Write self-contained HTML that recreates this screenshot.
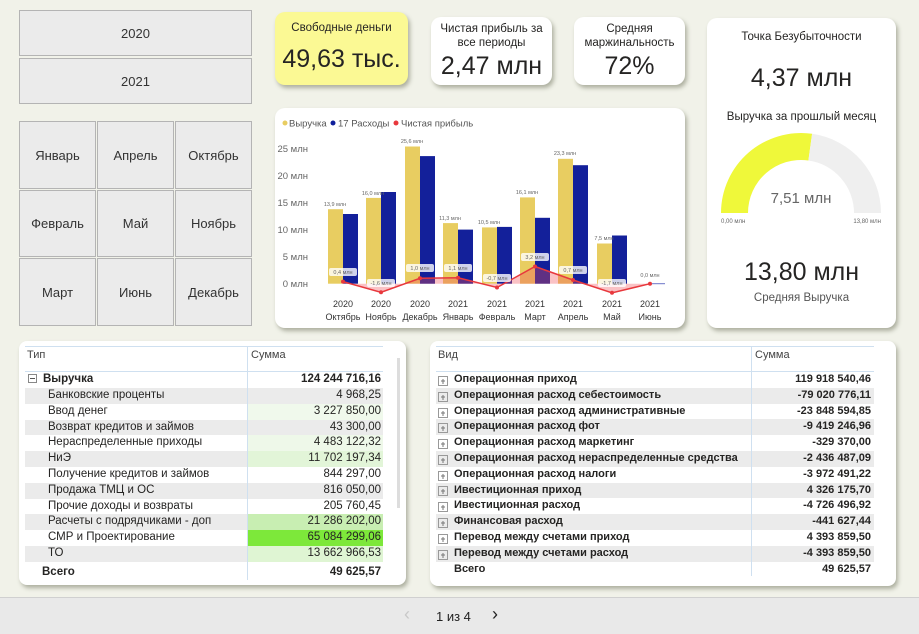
<!DOCTYPE html>
<html><head><meta charset="utf-8">
<style>
*{box-sizing:border-box;margin:0;padding:0}
body{width:919px;height:634px;background:#f1f2e9;font-family:"Liberation Sans","DejaVu Sans",sans-serif;position:relative;overflow:hidden;color:#252423}
.a{position:absolute}
.btn{position:absolute;background:#ebebeb;border:1px solid #b4b4b4;display:flex;align-items:center;justify-content:center;font-size:13px;color:#333}
.card{position:absolute;background:#fff;border-radius:10px;box-shadow:2px 3px 4px rgba(90,95,70,.45)}
.kt{position:absolute;left:0;right:0;text-align:center;font-size:11.5px;line-height:14px;color:#252423}
.kv{position:absolute;left:0;right:0;text-align:center;font-size:25px;color:#252423}
.row{position:absolute;height:15.8px;font-size:11.5px;line-height:15.8px;white-space:nowrap}
.g{background:#ebebeb}
.r{position:absolute;text-align:right}
#rr .row{font-size:11px}
</style></head><body>

<div class="btn" style="left:19px;top:10px;width:233px;height:46px">2020</div>
<div class="btn" style="left:19px;top:58px;width:233px;height:46px">2021</div>

<div class="btn" style="left:19px;top:121px;width:77px;height:68px">Январь</div>
<div class="btn" style="left:97px;top:121px;width:77px;height:68px">Апрель</div>
<div class="btn" style="left:175px;top:121px;width:77px;height:68px">Октябрь</div>
<div class="btn" style="left:19px;top:190px;width:77px;height:67px">Февраль</div>
<div class="btn" style="left:97px;top:190px;width:77px;height:67px">Май</div>
<div class="btn" style="left:175px;top:190px;width:77px;height:67px">Ноябрь</div>
<div class="btn" style="left:19px;top:258px;width:77px;height:68px">Март</div>
<div class="btn" style="left:97px;top:258px;width:77px;height:68px">Июнь</div>
<div class="btn" style="left:175px;top:258px;width:77px;height:68px">Декабрь</div>

<div class="card" style="left:275px;top:12px;width:133px;height:73px;background:#fbf994">
 <div class="kt" style="top:9px">Свободные деньги</div>
 <div class="kv" style="top:33px">49,63 тыс.</div>
</div>
<div class="card" style="left:431px;top:17px;width:121px;height:68px">
 <div class="kt" style="top:5px">Чистая прибыль за<br>все периоды</div>
 <div class="kv" style="top:35px">2,47 млн</div>
</div>
<div class="card" style="left:574px;top:17px;width:111px;height:68px">
 <div class="kt" style="top:5px">Средняя<br>маржинальность</div>
 <div class="kv" style="top:35px">72%</div>
</div>

<div class="card" style="left:275px;top:108px;width:410px;height:220px"></div>
<div class="card" style="left:707px;top:18px;width:189px;height:310px">
 <div class="kt" style="top:12px">Точка Безубыточности</div>
 <div class="kv" style="top:46px">4,37 млн</div>
 <div class="kt" style="top:92px">Выручка за прошлый месяц</div>
 <div class="kv" style="top:240px">13,80 млн</div>
 <div class="kt" style="top:273px;color:#555">Средняя Выручка</div>
</div>

<svg class="a" style="left:0;top:0" width="919" height="634" font-family="Liberation Sans, sans-serif">
 <path d="M721 213 A80 80 0 0 1 812.1 133.8 L808.4 160.5 A53 53 0 0 0 748 213 Z" fill="#eff83a"/>
 <path d="M812.1 133.8 A80 80 0 0 1 881 213 L854 213 A53 53 0 0 0 808.4 160.5 Z" fill="#efefef"/>
 <text x="801" y="203" font-size="15" text-anchor="middle" fill="#666">7,51 млн</text>
 <text x="721" y="223" font-size="6" fill="#666">0,00 млн</text>
 <text x="881" y="223" font-size="6" fill="#666" text-anchor="end">13,80 млн</text>

 <circle cx="285" cy="123" r="2.5" fill="#e8cd61"/><text x="289" y="126.5" font-size="9.5" fill="#555">Выручка</text>
 <circle cx="333" cy="123" r="2.5" fill="#0f1f9b"/><text x="338" y="126.5" font-size="9.5" fill="#555">17 Расходы</text>
 <circle cx="396" cy="123" r="2.5" fill="#e8383d"/><text x="401" y="126.5" font-size="9.5" fill="#555">Чистая прибыль</text>
 <g font-size="9.5" fill="#666" text-anchor="end">
  <text x="308" y="152">25 млн</text><text x="308" y="179">20 млн</text><text x="308" y="206">15 млн</text>
  <text x="308" y="233">10 млн</text><text x="308" y="260">5 млн</text><text x="308" y="287">0 млн</text>
 </g>
 <g fill="#e8cd61">
  <rect x="328" y="209.2" width="15" height="74.5"/><rect x="366" y="197.9" width="15" height="85.8"/>
  <rect x="405" y="146.5" width="15" height="137.2"/><rect x="443" y="223.1" width="15" height="60.6"/>
  <rect x="482" y="227.4" width="15" height="56.3"/><rect x="520" y="197.4" width="15" height="86.3"/>
  <rect x="558" y="158.8" width="15" height="124.9"/><rect x="597" y="243.5" width="15" height="40.2"/>
 </g>
 <g fill="#13209a">
  <rect x="343" y="214" width="15" height="69.7"/><rect x="381" y="192" width="15" height="91.7"/>
  <rect x="420" y="156.1" width="15" height="127.6"/><rect x="458" y="229.6" width="15" height="54.1"/>
  <rect x="497" y="226.9" width="15" height="56.8"/><rect x="535" y="217.8" width="15" height="65.9"/>
  <rect x="573" y="165.2" width="15" height="118.5"/><rect x="612" y="235.5" width="15" height="48.2"/>
 </g>
 <line x1="650" y1="283.7" x2="665" y2="283.7" stroke="#6b74c8" stroke-width="1"/>
 <polygon points="343,283.7 343,281.6 381,292.3 420,278.3 458,277.8 497,287.5 535,266.5 573,280 612,292.8 650,283.7" fill="rgba(240,80,90,0.35)"/>
 <polyline points="343,281.6 381,292.3 420,278.3 458,277.8 497,287.5 535,266.5 573,280 612,292.8 650,283.7" fill="none" stroke="#e8383d" stroke-width="1.5"/>
 <g fill="#e8383d"><circle cx="343" cy="281.6" r="2"/><circle cx="381" cy="292.3" r="2"/><circle cx="420" cy="278.3" r="2"/><circle cx="458" cy="277.8" r="2"/><circle cx="497" cy="287.5" r="2"/><circle cx="535" cy="266.5" r="2"/><circle cx="573" cy="280" r="2"/><circle cx="612" cy="292.8" r="2"/><circle cx="650" cy="283.7" r="2"/></g>
 <g font-size="5.5" fill="#666" text-anchor="middle">
  <text x="335" y="206">13,9 млн</text><text x="373" y="195">16,0 млн</text><text x="412" y="143">25,6 млн</text>
  <text x="450" y="220">11,3 млн</text><text x="489" y="224">10,5 млн</text><text x="527" y="194">16,1 млн</text>
  <text x="565" y="155">23,3 млн</text><text x="604" y="240">7,5 млн</text><text x="650" y="277">0,0 млн</text>
 </g>
 <g font-size="5.5" text-anchor="middle">
  <rect x="329" y="268" width="28" height="8" rx="2" fill="rgba(255,255,255,.8)"/><text x="343" y="274" fill="#666">0,4 млн</text>
  <rect x="367" y="279" width="28" height="8" rx="2" fill="rgba(255,255,255,.8)"/><text x="381" y="285" fill="#666">-1,6 млн</text>
  <rect x="406" y="264" width="28" height="8" rx="2" fill="rgba(255,255,255,.8)"/><text x="420" y="270" fill="#666">1,0 млн</text>
  <rect x="444" y="264" width="28" height="8" rx="2" fill="rgba(255,255,255,.8)"/><text x="458" y="270" fill="#666">1,1 млн</text>
  <rect x="483" y="274" width="28" height="8" rx="2" fill="rgba(255,255,255,.8)"/><text x="497" y="280" fill="#666">-0,7 млн</text>
  <rect x="521" y="253" width="28" height="8" rx="2" fill="rgba(255,255,255,.8)"/><text x="535" y="259" fill="#666">3,2 млн</text>
  <rect x="559" y="266" width="28" height="8" rx="2" fill="rgba(255,255,255,.8)"/><text x="573" y="272" fill="#666">0,7 млн</text>
  <rect x="598" y="279" width="28" height="8" rx="2" fill="rgba(255,255,255,.8)"/><text x="612" y="285" fill="#666">-1,7 млн</text>
 </g>
 <g font-size="9" fill="#333" text-anchor="middle">
  <text x="343" y="307">2020</text><text x="343" y="320">Октябрь</text>
  <text x="381" y="307">2020</text><text x="381" y="320">Ноябрь</text>
  <text x="420" y="307">2020</text><text x="420" y="320">Декабрь</text>
  <text x="458" y="307">2021</text><text x="458" y="320">Январь</text>
  <text x="497" y="307">2021</text><text x="497" y="320">Февраль</text>
  <text x="535" y="307">2021</text><text x="535" y="320">Март</text>
  <text x="573" y="307">2021</text><text x="573" y="320">Апрель</text>
  <text x="612" y="307">2021</text><text x="612" y="320">Май</text>
  <text x="650" y="307">2021</text><text x="650" y="320">Июнь</text>
 </g>
</svg>

<div class="card" style="left:19px;top:341px;width:387px;height:244px;border-radius:8px"></div>
<div class="a" style="left:397px;top:358px;width:3px;height:150px;background:#ddd"></div>
<div class="a" style="left:27px;top:349px;font-size:11px;color:#444">Тип</div>
<div class="a" style="left:251px;top:349px;font-size:11px;color:#444">Сумма</div>

<div class="card" style="left:430px;top:341px;width:466px;height:245px;border-radius:8px"></div>
<div class="a" style="left:438px;top:349px;font-size:11px;color:#444">Вид</div>
<div class="a" style="left:755px;top:349px;font-size:11px;color:#444">Сумма</div>

<div class="a" style="left:0;top:597px;width:919px;height:37px;background:#e9e9e9;border-top:1px solid #d0d0d0"></div>
<div class="a" style="left:404px;top:604px;font-size:18px;color:#c8c8c8">&#x2039;</div>
<div class="a" style="left:436px;top:609px;font-size:13px;color:#222">1 из 4</div>
<div class="a" style="left:492px;top:604px;font-size:18px;color:#222">&#x203A;</div>

<div class="row" style="left:25px;top:372px;width:358px;font-weight:bold"><span style="display:inline-block;width:9px;height:9px;border:1px solid #888;margin:0 6px 0 3px;vertical-align:-1px;position:relative"><span style="position:absolute;left:1px;top:3px;width:5px;height:1px;background:#555"></span></span>Выручка<span class="r" style="right:2px">124 244 716,16</span></div>
<div class="row g" style="left:25px;top:388px;width:358px;padding-left:23px">Банковские проценты<span class="r" style="right:2px">4 968,25</span></div>
<div class="row" style="left:25px;top:403.8px;width:358px;padding-left:23px">Ввод денег<span class="r" style="right:0;left:223px;background:#f0f9ec;padding-right:2px">3 227 850,00</span></div>
<div class="row g" style="left:25px;top:419.6px;width:358px;padding-left:23px">Возврат кредитов и займов<span class="r" style="right:2px">43 300,00</span></div>
<div class="row" style="left:25px;top:435.4px;width:358px;padding-left:23px">Нераспределенные приходы<span class="r" style="right:0;left:223px;background:#eef8e9;padding-right:2px">4 483 122,32</span></div>
<div class="row g" style="left:25px;top:451.2px;width:358px;padding-left:23px">НиЭ<span class="r" style="right:0;left:223px;background:#e2f5d8;padding-right:2px">11 702 197,34</span></div>
<div class="row" style="left:25px;top:467px;width:358px;padding-left:23px">Получение кредитов и займов<span class="r" style="right:2px">844 297,00</span></div>
<div class="row g" style="left:25px;top:482.8px;width:358px;padding-left:23px">Продажа ТМЦ и ОС<span class="r" style="right:2px">816 050,00</span></div>
<div class="row" style="left:25px;top:498.6px;width:358px;padding-left:23px">Прочие доходы и возвраты<span class="r" style="right:2px">205 760,45</span></div>
<div class="row g" style="left:25px;top:514.4px;width:358px;padding-left:23px">Расчеты с подрядчиками - доп<span class="r" style="right:0;left:223px;background:#c8eeb2;padding-right:2px">21 286 202,00</span></div>
<div class="row" style="left:25px;top:530.2px;width:358px;padding-left:23px">СМР и Проектирование<span class="r" style="right:0;left:223px;background:#7de83a;padding-right:2px">65 084 299,06</span></div>
<div class="row g" style="left:25px;top:546px;width:358px;padding-left:23px">ТО<span class="r" style="right:0;left:223px;background:#dff5d3;padding-right:2px">13 662 966,53</span></div>
<div class="row" style="left:25px;top:565px;width:358px;padding-left:17px;font-weight:bold">Всего<span class="r" style="right:2px">49 625,57</span></div>

<div id="rr" style="font-weight:bold">
<div class="row" style="left:436px;top:372px;width:438px;padding-left:18px">Операционная приход<span class="r" style="right:3px">119 918 540,46</span></div>
<div class="row g" style="left:436px;top:387.8px;width:438px;padding-left:18px">Операционная расход себестоимость<span class="r" style="right:3px">-79 020 776,11</span></div>
<div class="row" style="left:436px;top:403.6px;width:438px;padding-left:18px">Операционная расход административные<span class="r" style="right:3px">-23 848 594,85</span></div>
<div class="row g" style="left:436px;top:419.4px;width:438px;padding-left:18px">Операционная расход фот<span class="r" style="right:3px">-9 419 246,96</span></div>
<div class="row" style="left:436px;top:435.2px;width:438px;padding-left:18px">Операционная расход маркетинг<span class="r" style="right:3px">-329 370,00</span></div>
<div class="row g" style="left:436px;top:451px;width:438px;padding-left:18px">Операционная расход нераспределенные средства<span class="r" style="right:3px">-2 436 487,09</span></div>
<div class="row" style="left:436px;top:466.8px;width:438px;padding-left:18px">Операционная расход налоги<span class="r" style="right:3px">-3 972 491,22</span></div>
<div class="row g" style="left:436px;top:482.6px;width:438px;padding-left:18px">Ивестиционная приход<span class="r" style="right:3px">4 326 175,70</span></div>
<div class="row" style="left:436px;top:498.4px;width:438px;padding-left:18px">Ивестиционная расход<span class="r" style="right:3px">-4 726 496,92</span></div>
<div class="row g" style="left:436px;top:514.2px;width:438px;padding-left:18px">Финансовая расход<span class="r" style="right:3px">-441 627,44</span></div>
<div class="row" style="left:436px;top:530px;width:438px;padding-left:18px">Перевод между счетами приход<span class="r" style="right:3px">4 393 859,50</span></div>
<div class="row g" style="left:436px;top:545.8px;width:438px;padding-left:18px">Перевод между счетами расход<span class="r" style="right:3px">-4 393 859,50</span></div>
<div class="row" style="left:436px;top:561.6px;width:438px;padding-left:18px">Всего<span class="r" style="right:3px">49 625,57</span></div>
</div>

<div class="a" style="left:25px;top:346px;width:358px;height:1px;background:#cfe0f0"></div>
<div class="a" style="left:25px;top:371px;width:358px;height:1px;background:#cfe0f0"></div>
<div class="a" style="left:247px;top:346px;width:1px;height:234px;background:#cfe0f0"></div>
<div class="a" style="left:436px;top:346px;width:438px;height:1px;background:#cfe0f0"></div>
<div class="a" style="left:436px;top:371px;width:438px;height:1px;background:#cfe0f0"></div>
<div class="a" style="left:751px;top:346px;width:1px;height:230px;background:#cfe0f0"></div>

<svg class="a" style="left:0;top:0" width="919" height="634">
 <g fill="none" stroke="#999" stroke-width="1">
  <rect x="438.5" y="376.5" width="9" height="9"/><rect x="438.5" y="392.5" width="9" height="9"/><rect x="438.5" y="408.5" width="9" height="9"/><rect x="438.5" y="423.5" width="9" height="9"/><rect x="438.5" y="439.5" width="9" height="9"/><rect x="438.5" y="455.5" width="9" height="9"/><rect x="438.5" y="471.5" width="9" height="9"/><rect x="438.5" y="486.5" width="9" height="9"/><rect x="438.5" y="502.5" width="9" height="9"/><rect x="438.5" y="518.5" width="9" height="9"/><rect x="438.5" y="534.5" width="9" height="9"/><rect x="438.5" y="550.5" width="9" height="9"/>
 </g>
 <g stroke="#777" stroke-width="1">
  <path d="M441 381h4M443 379v5"/><path d="M441 397h4M443 395v5"/><path d="M441 413h4M443 411v5"/><path d="M441 428h4M443 426v5"/><path d="M441 444h4M443 442v5"/><path d="M441 460h4M443 458v5"/><path d="M441 476h4M443 474v5"/><path d="M441 491h4M443 489v5"/><path d="M441 507h4M443 505v5"/><path d="M441 523h4M443 521v5"/><path d="M441 539h4M443 537v5"/><path d="M441 555h4M443 553v5"/>
 </g>
</svg>
</body></html>
